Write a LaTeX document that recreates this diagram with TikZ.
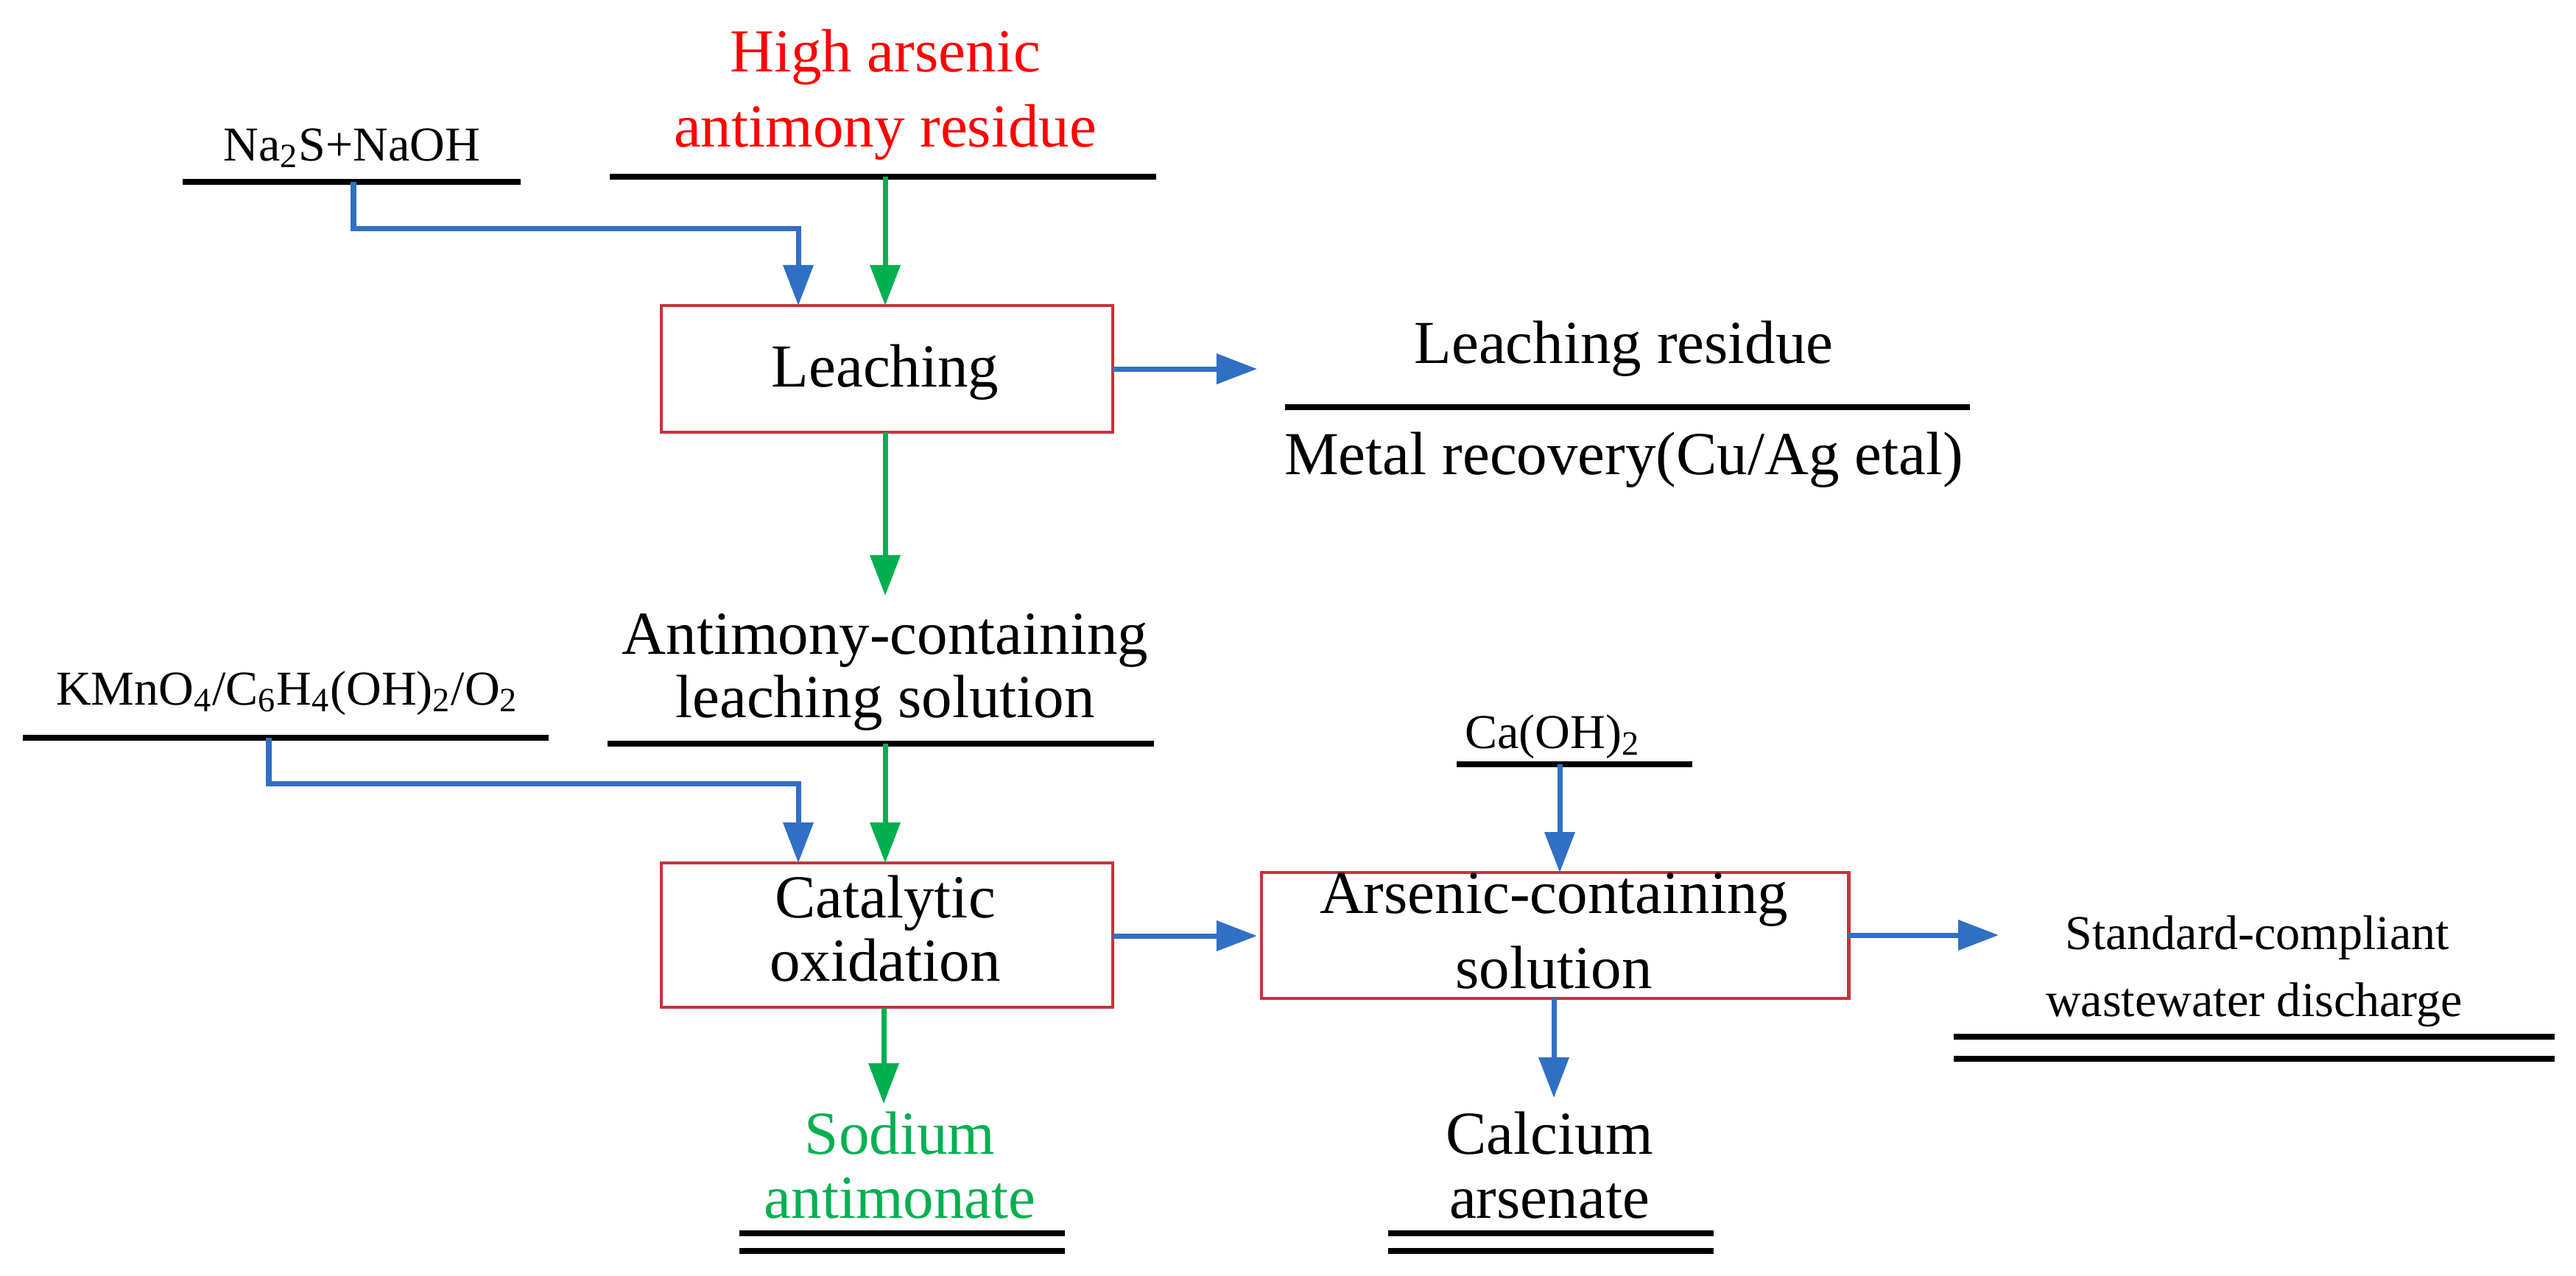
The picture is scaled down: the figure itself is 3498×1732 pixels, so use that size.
\documentclass[tikz,border=0pt]{standalone}
\usepackage{fontspec}
\setmainfont{Liberation Serif}
\usetikzlibrary{arrows.meta}
\definecolor{bl}{RGB}{48,112,196}
\definecolor{gr}{RGB}{0,176,80}
\definecolor{bx}{RGB}{200,50,60}
\begin{document}
\begin{tikzpicture}[x=0.01cm,y=-0.01cm,
  big/.style={font=\fontsize{23.6}{26}\selectfont,anchor=base,inner sep=0},
  sm/.style={font=\fontsize{18.8}{22}\selectfont,anchor=base,inner sep=0},
  ul/.style={line width=2.2pt,black},
  box/.style={draw=bx,line width=1.3pt,inner sep=0,outer sep=0},
  ba/.style={draw=bl,line width=2pt,-{Triangle[length=0.55cm,width=0.4cm]}},
  ga/.style={draw=gr,line width=2pt,-{Triangle[length=0.55cm,width=0.4cm]}}]
\useasboundingbox (0,0) rectangle (3498,1732);
% top
\node[big,text=red] (h1) at (1202,97) {High arsenic};
\node[big,text=red] (h2) at (1202,199) {antimony residue};
\coordinate (hl) at (828,240); \coordinate (hr) at (1570,240);
\draw[ul] (hl) -- (hr);
\node[sm] (na) at (478,218) {Na\textsubscript{2}S+NaOH};
\coordinate (nl) at (248,247); \coordinate (nr) at (707,247);
\draw[ul] (nl) -- (nr);
% leaching box
\node[box,minimum width=6.13cm,minimum height=1.72cm] (leach) at (1204.5,501) {};
\node[big] (leachT) at (1202,525) {Leaching};
\coordinate (naS) at (480,247); \coordinate (naT) at (1084,415);
\draw[ba] (naS) |- (1084,310) -- (naT);
\coordinate (hS) at (1202,240); \coordinate (hT) at (1202,415);
\draw[ga] (hS) -- (hT);
% residue
\coordinate (lrA) at (1511,501); \coordinate (lrB) at (1707,501);
\draw[ba] (lrA) -- (lrB);
\node[big] (lr) at (2205,493) {Leaching residue};
\coordinate (rl) at (1745,553); \coordinate (rr) at (2675,553);
\draw[ul] (rl) -- (rr);
\node[big] (mr) at (2205,644) {Metal recovery(Cu/Ag etal)};
% antimony solution
\coordinate (lS) at (1202,587); \coordinate (lT) at (1202,809);
\draw[ga] (lS) -- (lT);
\node[big] (a1) at (1202,888) {Antimony-containing};
\node[big] (a2) at (1202,974) {leaching solution};
\coordinate (al) at (825,1010); \coordinate (ar) at (1567,1010);
\draw[ul] (al) -- (ar);
\node[sm] (km) at (390,957) {KMnO\textsubscript{4}/C\textsubscript{6}H\textsubscript{4}(OH)\textsubscript{2}/O\textsubscript{2}};
\coordinate (kl) at (31,1002); \coordinate (kr) at (745,1002);
\draw[ul] (kl) -- (kr);
% catalytic
\node[box,minimum width=6.13cm,minimum height=1.96cm] (cat) at (1204.5,1270) {};
\node[big] (c1) at (1202,1246) {Catalytic};
\node[big] (c2) at (1202,1332) {oxidation};
\coordinate (kS) at (365,1002); \coordinate (kT) at (1084,1172);
\draw[ba] (kS) |- (1084,1064) -- (kT);
\coordinate (aS) at (1202,1010); \coordinate (aT) at (1202,1172);
\draw[ga] (aS) -- (aT);
% arsenic
\node[box,minimum width=7.97cm,minimum height=1.71cm] (ars) at (2111.5,1270.5) {};
\node[big] (r1) at (2110,1240) {Arsenic-containing};
\node[big] (r2) at (2110,1342) {solution};
\coordinate (cA) at (1511,1271); \coordinate (cB) at (1707,1271);
\draw[ba] (cA) -- (cB);
\node[sm] (ca) at (2108,1016) {Ca(OH)\textsubscript{2}};
\coordinate (cl) at (1978,1038); \coordinate (cr) at (2298,1038);
\draw[ul] (cl) -- (cr);
\coordinate (caS) at (2118,1038); \coordinate (caT) at (2118,1185);
\draw[ba] (caS) -- (caT);
\coordinate (wA) at (2510,1270); \coordinate (wB) at (2714,1270);
\draw[ba] (wA) -- (wB);
\node[sm] (w1) at (3065,1289) {Standard-compliant};
\node[sm] (w2) at (3061,1380) {wastewater discharge};
\coordinate (w1l) at (2653,1408); \coordinate (w1r) at (3469,1408);
\coordinate (w2l) at (2653,1438); \coordinate (w2r) at (3469,1438);
\draw[ul] (w1l) -- (w1r); \draw[ul] (w2l) -- (w2r);
% products
\coordinate (sS) at (1200,1369); \coordinate (sT) at (1200,1499);
\draw[ga] (sS) -- (sT);
\node[big,text=gr] (s1) at (1222,1567) {Sodium};
\node[big,text=gr] (s2) at (1222,1654) {antimonate};
\coordinate (s1l) at (1004,1675); \coordinate (s1r) at (1446,1675);
\coordinate (s2l) at (1004,1699); \coordinate (s2r) at (1446,1699);
\draw[ul] (s1l) -- (s1r); \draw[ul] (s2l) -- (s2r);
\coordinate (pS) at (2110,1356); \coordinate (pT) at (2110,1491);
\draw[ba] (pS) -- (pT);
\node[big] (p1) at (2104,1567) {Calcium};
\node[big] (p2) at (2104,1654) {arsenate};
\coordinate (p1l) at (1885,1675); \coordinate (p1r) at (2327,1675);
\coordinate (p2l) at (1885,1699); \coordinate (p2r) at (2327,1699);
\draw[ul] (p1l) -- (p1r); \draw[ul] (p2l) -- (p2r);
\end{tikzpicture}
\end{document}
